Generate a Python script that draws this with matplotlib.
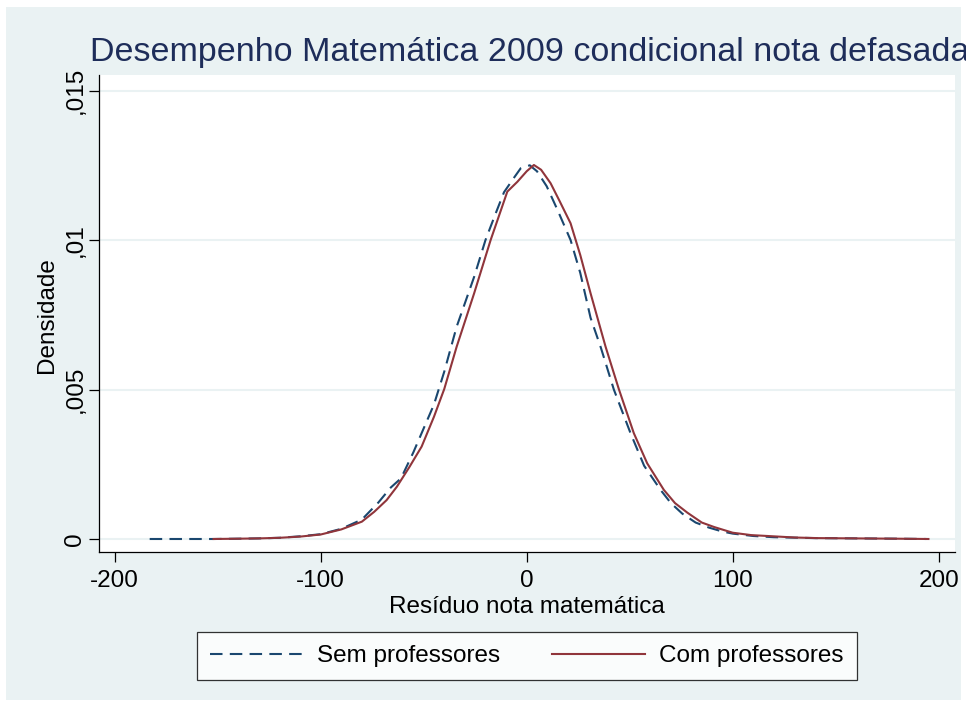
import matplotlib
matplotlib.use("Agg")
from matplotlib import pyplot as plt
from matplotlib.patches import Rectangle

# densidade kernel - residuo nota matematica
x_sem = [-183, -152, -140, -130, -120, -110, -100, -90, -80, -72, -66, -61, -55, -50,
         -45, -40, -34, -25.5, -20, -15, -11, -6, -2.9, 1.5, 5, 9.7, 15, 21.3, 26, 31,
         36, 42.3, 50.4, 57, 65, 70, 75.5, 82, 88.5, 95, 100, 110, 120, 140, 160, 180, 194]
y_sem = [0, 0, 0.00001, 0.00002, 0.00004, 0.00009, 0.00016, 0.00034, 0.00065, 0.00122,
         0.00172, 0.00203, 0.0029, 0.0037, 0.0045, 0.0056, 0.0071, 0.00877, 0.0100, 0.0109,
         0.0116, 0.0121, 0.0124, 0.0125, 0.0123, 0.0118, 0.0110, 0.0100, 0.0089, 0.0074,
         0.0064, 0.0050, 0.00354, 0.00245, 0.00164, 0.00120, 0.00085, 0.00055, 0.00038,
         0.00025, 0.00018, 0.0001, 0.00006, 0.00003, 0.00002, 0.00001, 0]

x_com = [-152, -140, -130, -120, -110, -100, -90, -80, -74, -68, -63, -57, -51, -45, -40,
         -34, -25.5, -17.5, -13, -9.4, -4.5, 0, 3.5, 7, 11.6, 16, 21.3, 26, 31, 38.3, 44.7,
         52, 58.5, 66.6, 72, 78, 85, 91, 100, 109, 117, 130, 141, 160, 180, 195]
y_com = [0, 0.00001, 0.00002, 0.00004, 0.00008, 0.00015, 0.00032, 0.00058, 0.00091, 0.0013,
         0.00175, 0.0024, 0.00309, 0.00409, 0.00502, 0.00643, 0.00822, 0.0100, 0.0109,
         0.01162, 0.01195, 0.0123, 0.01251, 0.01235, 0.0119, 0.0113, 0.01056, 0.0095,
         0.00822, 0.00643, 0.00502, 0.00354, 0.00253, 0.00164, 0.0012, 0.00088, 0.00055,
         0.0004, 0.00021, 0.00013, 0.0001, 0.00005, 0.00003, 0.00002, 0.00001, 0]

xticks = [-200, -100, 0, 100, 200]
yticks = [0, 0.005, 0.01, 0.015]
ytick_labels = ['0', ',005', ',01', ',015']

titulo = 'Desempenho Matemática 2009 condicional nota defasada'

plt.rcParams['font.family'] = ['Liberation Sans', 'DejaVu Sans']
fundo = '#EAF2F3'
azul = '#1A476F'
vinho = '#90353B'

W, H = 966, 706
fig = plt.figure(figsize=(W/100, H/100), dpi=100, facecolor='white')
fig.patches.append(Rectangle((6/W, 6/H), 955/W, 693/H, transform=fig.transFigure,
                             facecolor=fundo, edgecolor='none', zorder=-10))

ax = fig.add_axes([99/W, 1-552/H, 856/W, 477/H])
ax.set_facecolor('white')

ax.plot(x_sem, y_sem, color=azul, lw=1.5, dashes=(6, 3.5), label='Sem professores')
ax.plot(x_com, y_com, color=vinho, lw=1.5, label='Com professores')

ax.set_xlim(-207.6, 207.9)
ax.set_ylim(-0.000435, 0.01552)
ax.set_xticks(xticks)
ax.set_xticklabels([str(v) for v in xticks])
ax.set_yticks(yticks)
ax.set_yticklabels(ytick_labels, rotation=90, va='center')
ax.yaxis.grid(True, color=fundo, lw=1.5)
ax.set_axisbelow(True)
for s in ['top', 'right']:
    ax.spines[s].set_visible(False)
for s in ['left', 'bottom']:
    ax.spines[s].set_color('black')
    ax.spines[s].set_linewidth(0.9)
ax.tick_params(labelsize=17.5, length=7, width=0.9, colors='black')
ax.tick_params(axis='x', pad=6)
ax.tick_params(axis='y', pad=2)

ax.set_xlabel('Resíduo nota matemática', fontsize=17.5, labelpad=3)
fig.text(47/W, 1-315/H, 'Densidade', rotation=90, fontsize=17.5, ha='center', va='center')
fig.text(90/W, 1-53/H, titulo, fontsize=24.5, color='#1E2D5A', ha='left', va='center')

leg = fig.legend(loc='center', bbox_to_anchor=(197/W, 1-680/H, 660/W, 48/H),
                 mode='expand', ncol=2, fontsize=17.5, frameon=True, fancybox=False,
                 borderaxespad=0, handlelength=3.8, handletextpad=0.6, borderpad=0.55,
                 columnspacing=1.6)
leg.get_frame().set_edgecolor('black')
leg.get_frame().set_linewidth(0.9)
leg.get_frame().set_facecolor('white')

fig.savefig('out.png', dpi=100, facecolor=fig.get_facecolor())
